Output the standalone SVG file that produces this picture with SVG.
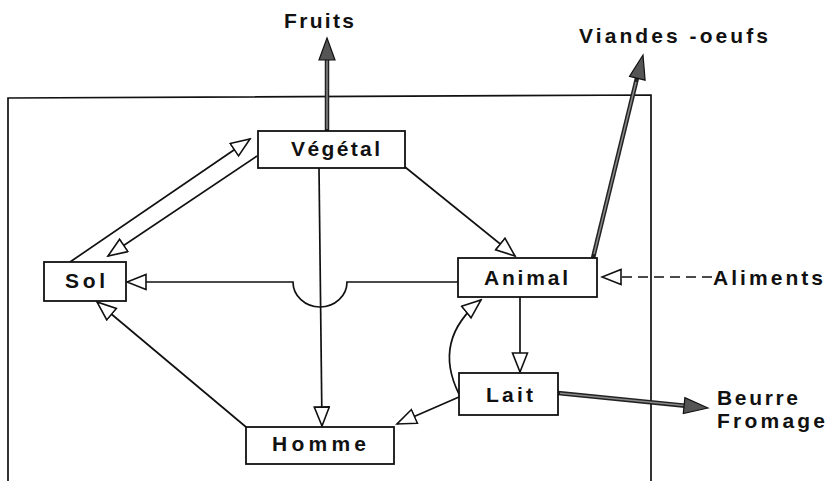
<svg xmlns="http://www.w3.org/2000/svg" width="828" height="481" viewBox="0 0 828 481">
<style>
.box{fill:#fff;stroke:#111;stroke-width:1.8}
.t{font-family:"Liberation Sans",Arial,sans-serif;font-weight:bold;font-size:21px;fill:#111}
.ln{fill:none;stroke:#111;stroke-width:1.7}
.dash{stroke-dasharray:10 6}
.thick{fill:none;stroke:#222;stroke-width:4.5}
.thin-in{fill:none;stroke:#888;stroke-width:1.5}
.head{fill:#555;stroke:#111;stroke-width:1.2;stroke-linejoin:miter}
</style>
<defs>
<marker id="open" markerUnits="userSpaceOnUse" markerWidth="22" markerHeight="18" viewBox="-1 -1 22 18" refX="19" refY="7.5" orient="auto">
<path d="M0,0 L19,7.5 L0,15 Z" fill="#fff" stroke="#111" stroke-width="1.6" stroke-dasharray="none"/>
</marker>
</defs>
<polyline class="ln" points="8,481 8,98 651,95 651,481"/>
<g id="connectors">
<line class="ln" x1="70" y1="262" x2="250" y2="139" marker-end="url(#open)"/>
<line class="ln" x1="257" y1="156" x2="108" y2="256" marker-end="url(#open)"/>
<path class="ln" d="M458,282 L347,282 A27,25 0 0 1 293,282 L127,282" marker-end="url(#open)"/>
<line class="ln" x1="319" y1="168" x2="322" y2="426" marker-end="url(#open)"/>
<line class="ln" x1="405" y1="167" x2="515" y2="256" marker-end="url(#open)"/>
<line class="ln" x1="246" y1="427" x2="97" y2="302" marker-end="url(#open)"/>
<line class="ln" x1="520" y1="297" x2="520" y2="372" marker-end="url(#open)"/>
<line class="ln" x1="459" y1="397" x2="397" y2="424" marker-end="url(#open)"/>
<path class="ln" d="M459,394 Q432,340 481,300" marker-end="url(#open)"/>
<line class="ln dash" x1="712" y1="277" x2="602" y2="277" marker-end="url(#open)"/>
<line class="thick" x1="327" y1="131" x2="327" y2="58"/>
<line class="thin-in" x1="327" y1="129" x2="327" y2="60"/>
<polygon class="head" points="327,38 335,60 319,60"/>
<line class="thick" x1="593" y1="258" x2="637" y2="78"/>
<line class="thin-in" x1="594" y1="254" x2="636" y2="82"/>
<polygon class="head" points="643,55 645.1,80.2 629.5,76.4"/>
<line class="thick" x1="558" y1="393" x2="685" y2="405.7"/>
<line class="thin-in" x1="560" y1="393.2" x2="684" y2="405.6"/>
<polygon class="head" points="708,408 683.3,413.6 684.9,397.6"/>
</g>
<g id="vegetal"><rect class="box" x="258" y="131" width="147" height="37"/><text class="t" x="291" y="156" textLength="89" lengthAdjust="spacing">Végétal</text></g>
<g id="sol"><rect class="box" x="44" y="262" width="82" height="39"/><text class="t" x="65" y="288" textLength="40" lengthAdjust="spacing">Sol</text></g>
<g id="animal"><rect class="box" x="458" y="258" width="139" height="39"/><text class="t" x="484" y="285" textLength="84" lengthAdjust="spacing">Animal</text></g>
<g id="lait"><rect class="box" x="459" y="373" width="99" height="42"/><text class="t" x="486" y="402" textLength="47" lengthAdjust="spacing">Lait</text></g>
<g id="homme"><rect class="box" x="246" y="427" width="148" height="37"/><text class="t" x="272" y="451" textLength="94" lengthAdjust="spacing">Homme</text></g>
<g id="fruits"><text class="t" x="284" y="28" textLength="70" lengthAdjust="spacing">Fruits</text></g>
<g id="viandes"><text class="t" x="579" y="43" textLength="189" lengthAdjust="spacing">Viandes -oeufs</text></g>
<g id="aliments"><text class="t" x="713" y="285" textLength="110" lengthAdjust="spacing">Aliments</text></g>
<g id="beurre"><text class="t" x="717" y="405" textLength="81" lengthAdjust="spacing">Beurre</text><text class="t" x="717" y="428" textLength="108" lengthAdjust="spacing">Fromage</text></g>
</svg>
